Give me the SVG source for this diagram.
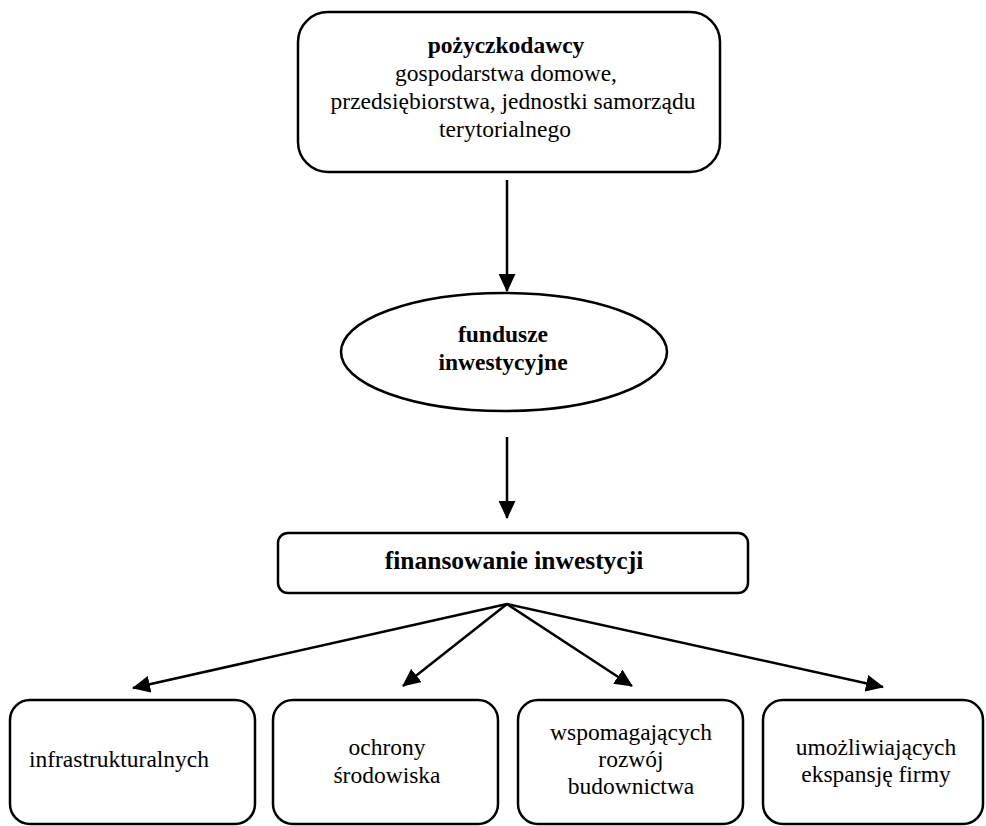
<svg xmlns="http://www.w3.org/2000/svg" width="986" height="826" viewBox="0 0 986 826">
<defs>
<marker id="ah" markerUnits="userSpaceOnUse" markerWidth="18" markerHeight="17" refX="17" refY="8.5" orient="auto">
<path d="M0,0 L18,8.5 L0,17 z" fill="#000"/>
</marker>
<style>
.box{fill:#fff;stroke:#000;stroke-width:2.5}
.t{font-family:"Liberation Serif","Times New Roman",serif;font-size:23.5px;fill:#000;text-anchor:middle}
.b{font-weight:bold}
.c{stroke:#000;stroke-width:2.5;fill:none;marker-end:url(#ah)}
</style>
</defs>
<rect width="986" height="826" fill="#fff"/>
<g id="connectors">
<line class="c" x1="507" y1="180" x2="507" y2="291"/>
<line class="c" x1="507" y1="437" x2="507" y2="518"/>
<line class="c" x1="507" y1="604" x2="133" y2="688"/>
<line class="c" x1="507" y1="604" x2="403" y2="686"/>
<line class="c" x1="507" y1="604" x2="632" y2="686"/>
<line class="c" x1="507" y1="604" x2="883" y2="687"/>
</g>
<g id="pozyczkodawcy">
<rect class="box" x="298" y="12" width="422" height="160" rx="30"/>
<text class="t b" x="506" y="53">pożyczkodawcy</text>
<text class="t" x="506" y="81">gospodarstwa domowe,</text>
<text class="t" x="513" y="109">przedsiębiorstwa, jednostki samorządu</text>
<text class="t" x="505" y="137">terytorialnego</text>
</g>
<g id="fundusze">
<ellipse class="box" cx="504" cy="352" rx="163" ry="59"/>
<text class="t b" x="503" y="342">fundusze</text>
<text class="t b" x="503" y="370">inwestycyjne</text>
</g>
<g id="finansowanie">
<rect class="box" x="278" y="533" width="470" height="60" rx="10"/>
<text class="t b" x="514" y="569" style="font-size:25.5px">finansowanie inwestycji</text>
</g>
<g id="infrastrukturalnych">
<rect class="box" x="10" y="700" width="245" height="124" rx="20"/>
<text class="t" x="119" y="767">infrastrukturalnych</text>
</g>
<g id="ochrony">
<rect class="box" x="273" y="700" width="225" height="124" rx="20"/>
<text class="t" x="387" y="755">ochrony</text>
<text class="t" x="387" y="783">środowiska</text>
</g>
<g id="wspomagajacych">
<rect class="box" x="518" y="700" width="225" height="124" rx="20"/>
<text class="t" x="631" y="740">wspomagających</text>
<text class="t" x="631" y="767">rozwój</text>
<text class="t" x="631" y="794">budownictwa</text>
</g>
<g id="umozliwiajacych">
<rect class="box" x="763" y="700" width="220" height="124" rx="20"/>
<text class="t" x="876" y="755">umożliwiających</text>
<text class="t" x="876" y="782">ekspansję firmy</text>
</g>
</svg>
